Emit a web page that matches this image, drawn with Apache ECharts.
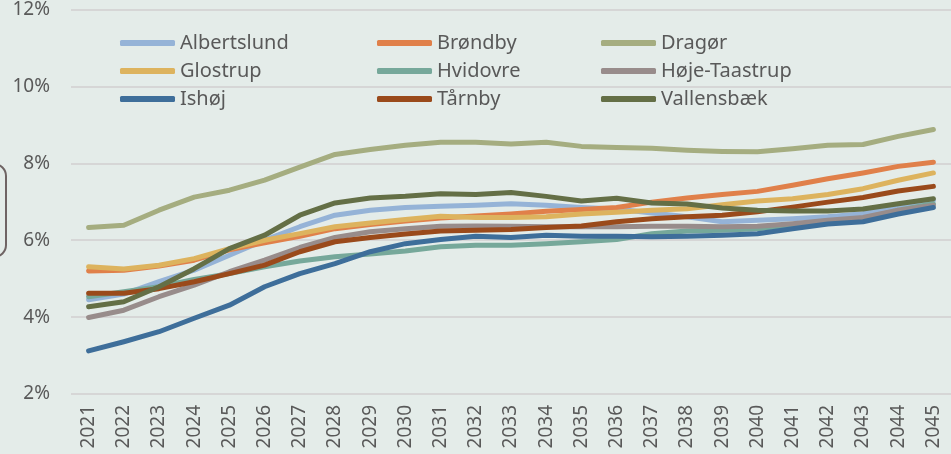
<!DOCTYPE html>
<html>
<head>
<meta charset="utf-8">
<script src="https://cdn.jsdelivr.net/npm/echarts@6/dist/echarts.min.js"></script>
<style>
  html, body { margin: 0; padding: 0; background: #e4ece9; }
  #chart { width: 951px; height: 454px; }
</style>
</head>
<body>
<div id="chart"></div>
<script>
// år på x-aksen
const years = ['2021', '2022', '2023', '2024', '2025', '2026', '2027', '2028', '2029', '2030',
  '2031', '2032', '2033', '2034', '2035', '2036', '2037', '2038', '2039', '2040',
  '2041', '2042', '2043', '2044', '2045']

// andele i procent
const albertslund = [4.45, 4.6, 4.92, 5.22, 5.61, 6.0, 6.35, 6.65, 6.78, 6.85, 6.88, 6.91, 6.95, 6.91, 6.85, 6.81, 6.71, 6.61, 6.48, 6.52, 6.56, 6.61, 6.69, 6.91, 7.04]
const broendby = [5.2, 5.22, 5.33, 5.48, 5.75, 5.93, 6.1, 6.3, 6.41, 6.5, 6.58, 6.63, 6.68, 6.75, 6.8, 6.85, 6.99, 7.1, 7.19, 7.27, 7.43, 7.6, 7.75, 7.92, 8.03]
const dragoer = [6.33, 6.39, 6.78, 7.12, 7.3, 7.56, 7.9, 8.23, 8.36, 8.47, 8.55, 8.55, 8.5, 8.55, 8.44, 8.41, 8.39, 8.34, 8.31, 8.3, 8.38, 8.47, 8.49, 8.7, 8.88]
const glostrup = [5.31, 5.25, 5.35, 5.52, 5.78, 6.0, 6.17, 6.35, 6.45, 6.54, 6.62, 6.59, 6.59, 6.61, 6.68, 6.73, 6.78, 6.82, 6.92, 7.02, 7.08, 7.19, 7.34, 7.56, 7.75]
const hvidovre = [4.53, 4.66, 4.79, 4.98, 5.13, 5.31, 5.46, 5.57, 5.64, 5.72, 5.83, 5.87, 5.87, 5.91, 5.96, 6.02, 6.17, 6.24, 6.26, 6.3, 6.39, 6.48, 6.56, 6.78, 6.95]
const hoejeTaastrup = [3.99, 4.18, 4.53, 4.83, 5.18, 5.48, 5.81, 6.07, 6.22, 6.3, 6.36, 6.37, 6.36, 6.35, 6.35, 6.35, 6.36, 6.36, 6.35, 6.36, 6.43, 6.52, 6.59, 6.78, 6.91]
const ishoej = [3.12, 3.36, 3.62, 3.97, 4.31, 4.79, 5.13, 5.39, 5.7, 5.91, 6.02, 6.1, 6.07, 6.13, 6.1, 6.1, 6.09, 6.1, 6.13, 6.17, 6.3, 6.42, 6.48, 6.68, 6.85]
const taarnby = [4.62, 4.62, 4.74, 4.92, 5.13, 5.35, 5.7, 5.96, 6.07, 6.16, 6.24, 6.26, 6.28, 6.33, 6.37, 6.48, 6.56, 6.61, 6.65, 6.74, 6.86, 6.99, 7.11, 7.28, 7.4]
const vallensbaek = [4.27, 4.4, 4.79, 5.26, 5.78, 6.13, 6.65, 6.97, 7.1, 7.14, 7.21, 7.19, 7.24, 7.14, 7.02, 7.09, 6.97, 6.94, 6.84, 6.78, 6.76, 6.76, 6.81, 6.95, 7.08]

const seriesList = [
  { name: 'Albertslund', data: albertslund, color: '#95b3d7' },
  { name: 'Brøndby', data: broendby, color: '#e0804a' },
  { name: 'Dragør', data: dragoer, color: '#a5ad80' },
  { name: 'Glostrup', data: glostrup, color: '#ddb35e' },
  { name: 'Hvidovre', data: hvidovre, color: '#76a89a' },
  { name: 'Høje-Taastrup', data: hoejeTaastrup, color: '#988c8b' },
  { name: 'Ishøj', data: ishoej, color: '#3e6e9a' },
  { name: 'Tårnby', data: taarnby, color: '#9a4a1b' },
  { name: 'Vallensbæk', data: vallensbaek, color: '#646f46' }
]

const fontFamily = '"Noto Sans", sans-serif'
const textColor = '#595959'

// tre kolonner i forklaringen
const legendCol = (names, left) => ({
  data: names,
  left: left,
  top: 33,
  padding: 0,
  orient: 'vertical',
  itemGap: 8,
  itemWidth: 55,
  itemHeight: 6,
  icon: 'roundRect',
  textStyle: { color: textColor, fontSize: 20, fontFamily: fontFamily }
})

const chart = echarts.init(document.getElementById('chart'))
chart.setOption({
  backgroundColor: '#e4ece9',
  animation: false,
  grid: { left: 71, right: -2, top: 9, bottom: 60 },
  legend: [
    legendCol(['Albertslund', 'Glostrup', 'Ishøj'], 120),
    legendCol(['Brøndby', 'Hvidovre', 'Tårnby'], 377),
    legendCol(['Dragør', 'Høje-Taastrup', 'Vallensbæk'], 601)
  ],
  graphic: [
    {
      type: 'rect',
      shape: { x: -100, y: 164, width: 106, height: 93, r: 12 },
      style: { fill: 'transparent', stroke: '#6f6464', lineWidth: 2 }
    }
  ],
  xAxis: {
    type: 'category',
    data: years,
    boundaryGap: true,
    axisLine: { show: false },
    axisTick: { show: false },
    axisLabel: { rotate: 90, color: textColor, fontSize: 19, fontFamily: fontFamily, margin: 11 }
  },
  yAxis: {
    type: 'value',
    min: 2,
    max: 12,
    interval: 2,
    axisLine: { show: false },
    axisTick: { show: false },
    splitLine: { lineStyle: { color: '#d6d6d6', width: 2 } },
    axisLabel: { formatter: '{value}%', color: textColor, fontSize: 19, fontFamily: fontFamily, margin: 21 }
  },
  series: seriesList.map((s) => ({
    name: s.name,
    type: 'line',
    data: s.data,
    symbol: 'none',
    color: s.color,
    lineStyle: { width: 5, color: s.color, cap: 'round', join: 'round' }
  }))
})
</script>
</body>
</html>
